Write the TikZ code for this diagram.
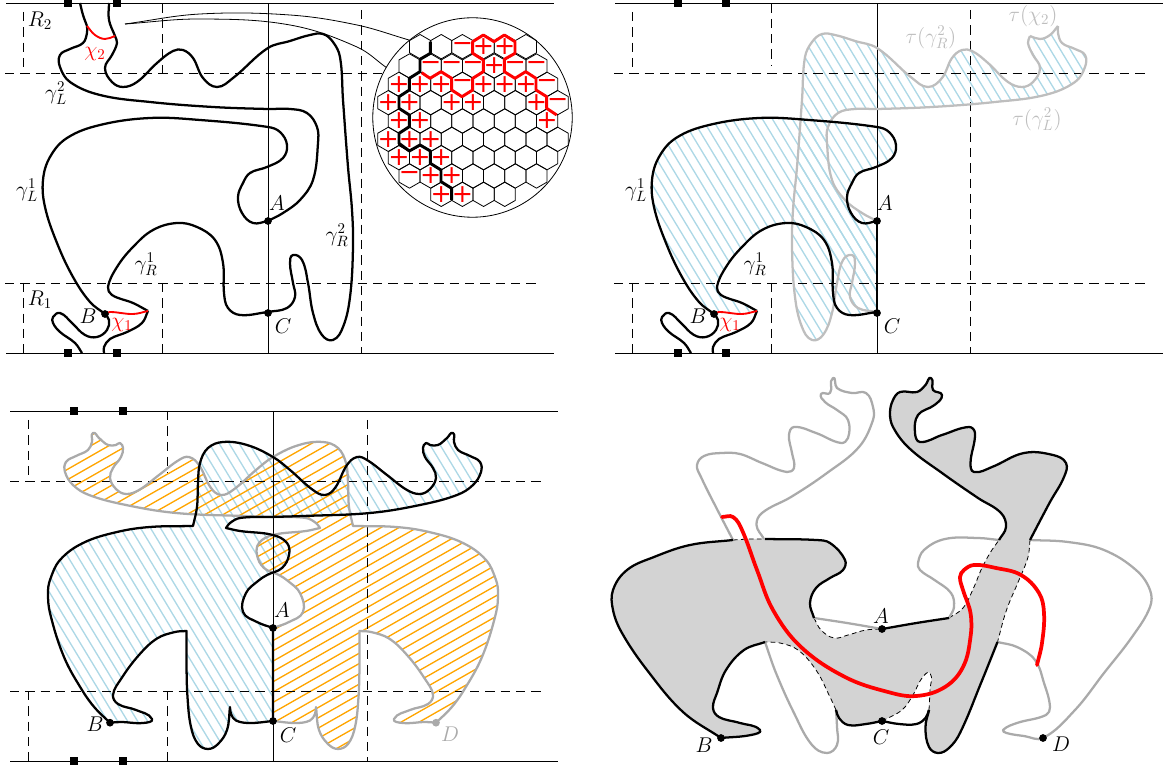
\RequirePackage{fix-cm}
\documentclass[tikz,border=0pt]{standalone}
\usepackage{fontspec}
\newfontfamily\signfont{DejaVu Sans}
\definecolor{hblue}{RGB}{173,216,230}
\definecolor{horange}{RGB}{255,165,0}
\definecolor{gthree}{RGB}{170,170,170}
\definecolor{gtwo}{RGB}{190,190,190}
\definecolor{gfill}{RGB}{211,211,211}
\definecolor{redc}{RGB}{255,0,0}
\tikzset{
  thinl/.style={line width=.7pt,black},
  dashl/.style={line width=.7pt,black,dash pattern=on 7pt off 4.5pt},
  curve/.style={line width=1.7pt,black,line join=round},
  gcurve/.style={line width=1.7pt,gtwo,line join=round},
  hcurve/.style={line width=1.7pt,gthree,line join=round},
  redl/.style={line width=1.4pt,redc},
  redthick/.style={line width=2.8pt,redc},
  dashthin/.style={line width=.6pt,black,dash pattern=on 3.5pt off 2.5pt},
  lab/.style={font=\fontsize{16}{19}\selectfont,inner sep=0pt},
  sq/.style={fill=black,inner sep=0pt,minimum size=6pt,rectangle},
  dot/.style={circle,fill=black,inner sep=0pt,minimum size=5.8pt},
  sgn/.style={font=\signfont\fontsize{19}{19}\selectfont,text=redc,inner sep=0pt},
  hbl/.style={line width=1pt,hblue},
  hor/.style={line width=1pt,horange},
  mir/.style={shift={(1145,0)},xscale=-1},
  shp/.style={shift={(609,0)}},
  mirc/.style={shift={(546,0)},xscale=-1}
}
% smooth curve builder: unit tangents, handles proportional to chord
\newcount\ptn
\def\readpts#1{\global\ptn=0 \readptsi#1(\relax,\relax)}
\def\readptsi(#1,#2){\ifx\relax#1\else\global\advance\ptn by 1
  \expandafter\xdef\csname px\the\ptn\endcsname{#1}%
  \expandafter\xdef\csname py\the\ptn\endcsname{#2}%
  \expandafter\readptsi\fi}
\def\tangent#1{%
  \pgfmathtruncatemacro\iP{max(#1-1,1)}%
  \pgfmathtruncatemacro\iN{min(#1+1,\the\ptn)}%
  \edef\xp{\csname px\iP\endcsname}\edef\yp{\csname py\iP\endcsname}%
  \edef\xn{\csname px\iN\endcsname}\edef\yn{\csname py\iN\endcsname}%
  \pgfmathsetmacro\ll{veclen(\xn-\xp,\yn-\yp)}%
  \pgfmathsetmacro\tx{(\xn-\xp)/\ll}%
  \pgfmathsetmacro\ty{(\yn-\yp)/\ll}}
\newcommand\mkcurve[2]{%
  \readpts{#2}%
  \xdef#1{(\csname px1\endcsname,\csname py1\endcsname)}%
  \pgfmathtruncatemacro\lastm{\the\ptn-1}%
  \foreach \ii in {1,...,\lastm}{%
    \pgfmathtruncatemacro\jj{\ii+1}%
    \tangent{\ii}\let\tax\tx\let\tay\ty
    \tangent{\jj}\let\tbx\tx\let\tby\ty
    \edef\xa{\csname px\ii\endcsname}\edef\ya{\csname py\ii\endcsname}%
    \edef\xb{\csname px\jj\endcsname}\edef\yb{\csname py\jj\endcsname}%
    \pgfmathsetmacro\dd{veclen(\xb-\xa,\yb-\ya)*0.36}%
    \pgfmathsetmacro\cax{\xa+\tax*\dd}%
    \pgfmathsetmacro\cay{\ya+\tay*\dd}%
    \pgfmathsetmacro\cbx{\xb-\tbx*\dd}%
    \pgfmathsetmacro\cby{\yb-\tby*\dd}%
    \xdef#1{#1 .. controls (\cax,\cay) and (\cbx,\cby) .. (\xb,\yb)}%
  }}
% panel one curves
\mkcurve\gLlow{(268,221)(283,213)(300,200)(313,180)(318,143)(317,127)(307,113)(290,109)(268,109)(213,107)(150,102)(100,95)(70,82)(60,67)(60,55)(70,49)(83,43)(87,33)(87,26)}
\mkcurve\gRlow{(115,36)(117,43)(112,55)(105,68)(112,82)(123,87)(137,82)(157,63)(173,51)(183,50)(193,58)(203,78)(217,87)(233,78)(268,48)(290,41)(310,35)(323,34)(333,42)(340,57)(343,100)(348,167)(352,210)(353,247)(350,297)(343,327)(333,340)(322,335)(313,313)(308,283)(302,260)(293,255)(290,263)(293,283)(295,297)(287,308)(268,312)}
\mkcurve\chiTwo{(87,26)(95,35)(105,39)(115,36)}
\mkcurve\gLone{(105,314)(90,302)(73,277)(57,243)(45,207)(43,180)(50,157)(67,138)(100,125)(150,118)(200,120)(268,127)(280,132)(287,145)(283,158)(267,167)(250,173)(243,183)(238,197)(242,213)(253,223)(268,221)}
\mkcurve\gRone{(268,312)(240,315)(228,308)(224,293)(223,263)(215,240)(197,227)(177,223)(153,230)(133,247)(117,267)(108,287)(112,295)(133,303)(148,311)}
\mkcurve\gRtail{(148,311)(142,323)(127,332)(110,339)(104,347)(104,353)}
\mkcurve\Btail{(105,314)(109,320)(107,330)(97,337)(85,335)(72,323)(60,313)(53,317)(53,323)(60,332)(75,343)(82,353)}
\mkcurve\chiOne{(148,311)(133,314)(110,312)(105,314)}
\mkcurve\capL{(87,26)(83,15)(80,3)}
\mkcurve\capR{(115,36)(109,20)(109,3)}
\mkcurve\lensUp{(125,24)(200,14)(290,15)(357,25)(409,40)}
\mkcurve\lensLo{(125,24)(200,19)(290,25)(357,47)(387,68)}
% panel three
\mkcurve\SA{(110,722.7)(95,708)(82,690)(64,657)(50,613)(48,593)(50,580)(60,560)(83,543)(117,532)(150,527)(193,526)}
\mkcurve\SB{(193,526)(197,507)(198,483)(200,463)(208,448)(223,442)(247,445)(273,457)(290,470)(313,490)(325,495)(335,488)(347,465)(357,457)(367,460)(387,475)(407,490)(420,494)(430,489)(436,478)(433,468)(425,457)(423,448)(426,443)(430,445)(438,445)(447,438)(453,433)(454,442)(458,450)(470,456)(480,462)(481,472)(473,485)(457,495)(420,505)(370,513)(303,516)(270,517)(240,518)(230,523)(226,528)}
\mkcurve\SC{(226,528)(240,531)(273,535)(287,543)(289,555)(282,568)(267,575)(258,581)(246,593)(243,612)(257,622)(273,628)}
\mkcurve\SD{(273,721)(250,723)(236,720.5)(231,714)(230,707)}
\mkcurve\SE{(230,707)(227,730)(218,744)(208,749)(198,744)(191,727)(187.5,697)(186.5,664)(186.5,631)}
\mkcurve\SF{(186.5,631)(175,632)(157,638.5)(139,655)(121,679)(113,695)(118,704)(136,710)(152,719)(143,723)(121,722)(110,722.7)}
% panel four
\mkcurve\Fa{(721,738)(683,712)(647,670)(622,633)(613,610)(613,590)(627,570)(654,557)(690,545)(733,540)}
\mkcurve\Fb{(733,540)(750,539)(765,539)}
\mkcurve\Fc{(765,539)(816,540)(830,543)(845,560)(843,570)(830,578)(816,588)(810,603)(814,618)}
\mkcurve\Fd{(814,618)(821,630)(834,638)(848,635)(866,630)(882,629)}
\mkcurve\Fe{(882,629)(916.5,623)(949,618)}
\mkcurve\Ff{(949,618)(963,608)(974,587)(981,570)(990,553)(999,540)}
\mkcurve\Fg{(999,540)(1006,527)(1001,513)(978,498)(942,473)(909,448)(893,427)(890,413)(893,400)(900,392)(917,392)(925.5,385)(931,378)(933,390)(942,395)(934.5,405)(918,415)(915,433)(920,442)(942,435)(969,427)(975,433)(970.5,463)(974,472)(992,467)(1024,453)(1053,455)(1066,463)(1064,477)(1050,502)(1030,540)}
\mkcurve\Fh{(1030,540)(1028,557)(1019,580)(1006.5,610)(997.5,642)}
\mkcurve\Fi{(997.5,642)(981,683)(960,733)(949,748)(938,753)(929,747)(925.5,727)(929,710)}
\mkcurve\Fj{(929,710)(930,690)(930,673)(922,678)(913,695)(902,710)(882,721)}
\mkcurve\Fk{(882,721)(866,724)(848,725)(839,718)(836,710)}
\mkcurve\Fl{(836,710)(830,697)(816,670)(798,650)(780,643)(765,642)}
\mkcurve\Fm{(765,642)(744,650)(726,670)(717,693)(713,708)(719,717)(740,723)(760,730)(751,735)(721,738)}
\mkcurve\Fn{(882,721)(899,724)(916.5,724)(925.5,718)(929,710)}
\mkcurve\Ga{(733,540)(719,513)(701,477)(697,465)(704,456)(722,453)(740,454)(762,463)(787,472)(794,468)(792,453)(789,435)(794,427)(816,433)(841,443)(848,438)(848,420)(837,410)(825,402)(821,394)(830,393)(833,378)(837,388)(852,393)(866,393)(873,407)(873,420)(859,447)(827,473)(791,497)(762,513)(756.5,525)(764,539)}
\mkcurve\Gb{(1030,540)(1068,542)(1104,550)(1136,570)(1150,590)(1150,607)(1132,637)(1104,673)(1075,710)(1043,738)(1024,736)(1006.5,733)(1003,730)(1017,723)(1046,715)(1050,707)(1044,683)(1035,660)(1017,647)(997.5,642)}
\mkcurve\Gc{(999,540)(978,538)(945,539)(924,550)(918,563)(920,570)(934.5,580)(951,593)(954,607)(949,618)}
\mkcurve\Gd{(765,642)(776,673)(794,713)(812,745)(827,753)(837,745)(837,727)(836,710)}
\mkcurve\Ge{(814,618)(847,623)(882,629)}
\mkcurve\Rd{(722,517)(733,517)(742,530)(757,570)(773,610)(801,647)(845,677)(888,692)(916.5,696)(945,687)(963,667)(970.5,637)(970.5,613)(963,590)(960,577)(964,570)(974,565)(996,568)(1021,575)(1039,593)(1044,613)(1042,643)(1037,665)}
\edef\regionOne{\gLone -- (268,312) -- \gRone -- \chiOne -- cycle}
\edef\regionTwo{\gLlow -- \chiTwo -- \gRlow -- cycle}
\edef\outlineS{\SA -- \SB -- \SC -- (273,721) -- \SD -- \SE -- \SF}
\edef\grayPa{\SA -- \SB -- \SC}
\edef\grayPb{\SD -- \SE -- \SF}
\edef\regionF{\Fa -- \Fb -- \Fc -- \Fd -- \Fe -- \Ff -- \Fg -- \Fh -- \Fi -- \Fj -- \Fk -- \Fl -- \Fm -- cycle}
\newcommand{\HatchBlue}{\foreach \c in {-449.8,-439.8,...,1300}{\draw[hbl] (\c,0) -- ++(464,765);}}
\newcommand{\HatchOrange}{\foreach \c in {404.8,415.1,...,1400}{\draw[hor] (0,\c) -- ++(1164,-663.5);}}
\begin{document}
\begin{tikzpicture}[x=.75pt,y=-.75pt]
\useasboundingbox (0,0) rectangle (1164,766);
% ---------- panel 1 frame
\draw[thinl] (6,3.5) -- (554,3.5);
\draw[thinl] (6,353) -- (554,353);
\draw[thinl] (268,3.5) -- (268,353);
\draw[dashl] (5,73) -- (385,73);
\draw[dashl] (5,283) -- (540,283);
\draw[dashl] (23,12) -- (23,73);
\draw[dashl] (23,283) -- (23,353);
\draw[dashl] (162,3.5) -- (162,73);
\draw[dashl] (162,283) -- (162,353);
\draw[dashl] (361,10) -- (361,353);
\foreach \n/\p in {a/68,b/117}{
  \node[sq] (t\n) at (\p,3.5) {};
  \node[sq] (u\n) at (\p,353) {};
}
% panel 1 curves
\draw[curve] \gLlow;
\draw[curve] \capL;
\draw[curve] \gRlow;
\draw[curve] \capR;
\draw[curve] \gLone;
\draw[curve] \gRone;
\draw[curve] \gRtail;
\draw[curve] \Btail;
\draw[redl] \chiOne;
\draw[redl] \chiTwo;
\node[dot] (A1) at (268,221) {};
\node[dot] (C1) at (268,313) {};
\node[dot] (B1) at (105,314) {};
\node[lab] (lR2) at (40,21) {$R_2$};
\node[lab] (lR1) at (40,300) {$R_1$};
\node[lab,text=redc] (lc2) at (95,54) {$\chi_2$};
\node[lab,text=redc] (lc1) at (122,325) {$\chi_1$};
\node[lab] (lgl2) at (56,93) {$\gamma_L^2$};
\node[lab] (lgl1) at (27,190) {$\gamma_L^1$};
\node[lab] (lgr1) at (146,264) {$\gamma_R^1$};
\node[lab] (lgr2) at (337,235) {$\gamma_R^2$};
\node[lab] (lA1) at (277,203) {$A$};
\node[lab] (lB1) at (88,316) {$B$};
\node[lab] (lC1) at (283,326) {$C$};
% magnifier
\draw[line width=.6pt] \lensUp;
\draw[line width=.6pt] \lensLo;
\node[circle,draw=black,line width=.6pt,fill=white,minimum size=149.6pt,inner sep=0pt] (lens) at (472.5,117.5) {};
\begin{scope}[shift={(290,0)},x=.25pt,y=-.25pt]
\foreach \yy/\kl in {140/{3,5,7,9,11,13},198/{2,4,6,8,10,12,14},253/{1,3,5,7,9,11,13,15},308/{0,2,4,6,8,10,12,14,16},363/{1,3,5,7,9,11,13,15},418/{0,2,4,6,8,10,12,14,16},473/{1,3,5,7,9,11,13,15},528/{2,4,6,8,10,12,14},583/{5,7,9,11}}{
  \foreach \k in \kl {
    \pgfmathsetmacro\cx{295+31.75*\k}
    \draw[line width=.6pt,line join=round] (\cx,\yy) ++(0,36.5) -- ++(31.75,-18.25) -- ++(0,-36.5) -- ++(-31.75,-18.25) -- ++(-31.75,18.25) -- ++(0,36.5) -- cycle;
  }
}
\draw[line width=2.2pt,redc,line join=round] (395,218)--(420,235)--(453,215)--(485,235)--(485,270)--(516,290)--(548,270)--(548,235)--(580,215)--(580,180)--(548,160)--(548,125)--(580,105)--(612,125)--(643,105)--(675,125)--(675,160)--(643,178)--(643,215)--(675,235)--(707,215)--(738,235)--(738,270)--(770,290)--(770,325)--(800,345);
\draw[line width=2.2pt,black,line join=round] (421,125)--(421,160)--(390,178)--(390,215)--(358,235)--(358,270)--(327,290)--(327,325)--(358,345)--(358,380)--(327,400)--(327,430)--(358,453)--(390,435)--(421,453)--(421,490)--(453,510)--(453,545)--(485,565)--(485,600);
\foreach \k/\yy in {9/140,11/140,10/198,1/253,3/253,5/253,9/253,11/253,13/253,0/308,2/308,6/308,8/308,14/308,1/363,3/363,15/363,0/418,2/418,4/418,1/473,3/473,5/473,4/528,6/528,5/583,7/583}{
  \node[sgn] (pl\k y\yy) at ({295+31.75*\k},\yy) {+};
}
\foreach \k/\yy in {7/140,4/198,6/198,8/198,12/198,14/198,7/253,15/253,16/308,2/528}{
  \node[sgn] (mi\k y\yy) at ({295+31.75*\k},\yy) {−};
}
\end{scope}
% ---------- panel 2
\begin{scope}
\clip[shp] \regionOne;
\HatchBlue
\end{scope}
\begin{scope}
\clip[mir] \regionTwo;
\HatchBlue
\end{scope}
\draw[thinl] (615,3.5) -- (1163,3.5);
\draw[thinl] (615,353) -- (1163,353);
\draw[thinl] (877,3.5) -- (877,353);
\draw[dashl] (614,73) -- (1149,73);
\draw[dashl] (614,283) -- (1149,283);
\draw[dashl] (632,12) -- (632,73);
\draw[dashl] (632,283) -- (632,353);
\draw[dashl] (771,3.5) -- (771,65);
\draw[dashl] (771,283) -- (771,353);
\draw[dashl] (970,10) -- (970,353);
\foreach \n/\p in {a/678,b/726}{
  \node[sq] (v\n) at (\p,3.5) {};
  \node[sq] (w\n) at (\p,353) {};
}
\draw[gcurve,mir] \gLlow;
\draw[gcurve,mir] \gRlow;
\draw[gcurve,mir] \chiTwo;
\draw[curve,shp] \gLone;
\draw[curve,shp] \gRone;
\draw[curve,shp] \gRtail;
\draw[curve,shp] \Btail;
\draw[line width=1.1pt] (877,221) -- (877,312);
\draw[redl,shp] \chiOne;
\node[dot] (A2) at (877,221) {};
\node[dot] (C2) at (877,313) {};
\node[dot] (B2) at (714,314) {};
\node[lab] (mgl1) at (636,190) {$\gamma_L^1$};
\node[lab] (mgr1) at (755,264) {$\gamma_R^1$};
\node[lab] (mA) at (885,203) {$A$};
\node[lab] (mB) at (698,316) {$B$};
\node[lab] (mC) at (892,326) {$C$};
\node[lab,text=redc] (mc1) at (730,325) {$\chi_1$};
\node[lab,text=gtwo] (ta) at (931,37) {$\tau(\gamma_R^2)$};
\node[lab,text=gtwo] (tb) at (1033,16) {$\tau(\chi_2)$};
\node[lab,text=gtwo] (tc) at (1037,119) {$\tau(\gamma_L^2)$};
% ---------- panel 3
\begin{scope}
\clip \outlineS -- cycle;
\HatchBlue
\end{scope}
\begin{scope}
\clip[mirc] \outlineS -- cycle;
\HatchOrange
\end{scope}
\draw[thinl] (10,411) -- (558,411);
\draw[thinl] (10,761) -- (558,761);
\draw[thinl] (273,411) -- (273,761);
\draw[dashl] (10,481) -- (544,481);
\draw[dashl] (10,691) -- (544,691);
\draw[dashl] (28,420) -- (28,481);
\draw[dashl] (28,691) -- (28,761);
\draw[dashl] (167.5,411) -- (167.5,473);
\draw[dashl] (167.5,691) -- (167.5,761);
\draw[dashl] (367,420) -- (367,761);
\foreach \n/\p in {a/74,b/123}{
  \node[sq] (x\n) at (\p,411) {};
  \node[sq] (y\n) at (\p,761) {};
}
\draw[hcurve,mirc] \grayPa;
\draw[hcurve,mirc] \grayPb;
\draw[curve] \outlineS;
\node[dot] (A3) at (273,628) {};
\node[dot] (C3) at (273,721) {};
\node[dot] (B3) at (110,722.7) {};
\node[dot,fill=gthree] (D3) at (436,722.7) {};
\node[lab] (nA) at (282,610) {$A$};
\node[lab] (nB) at (95,724) {$B$};
\node[lab] (nC) at (288,735) {$C$};
\node[lab,text=gthree] (nD) at (450,734) {$D$};
% ---------- panel 4
\fill[gfill] \regionF;
\foreach \seg in {\Fb,\Fd,\Ff,\Fh,\Fj,\Fl}{\draw[dashthin] \seg;}
\foreach \seg in {\Ga,\Gb,\Gc,\Gd,\Ge}{\draw[hcurve] \seg;}
\foreach \seg in {\Fa,\Fc,\Fe,\Fg,\Fi,\Fk,\Fm,\Fn}{\draw[curve] \seg;}
\draw[redthick,line cap=round] \Rd;
\node[dot] (A4) at (882,629) {};
\node[dot] (C4) at (882,721) {};
\node[dot] (B4) at (721,738) {};
\node[dot] (D4) at (1043,738) {};
\node[lab] (oA) at (881,616) {$A$};
\node[lab] (oB) at (704,745) {$B$};
\node[lab] (oC) at (881,737) {$C$};
\node[lab] (oD) at (1061,744) {$D$};
\end{tikzpicture}
\end{document}
